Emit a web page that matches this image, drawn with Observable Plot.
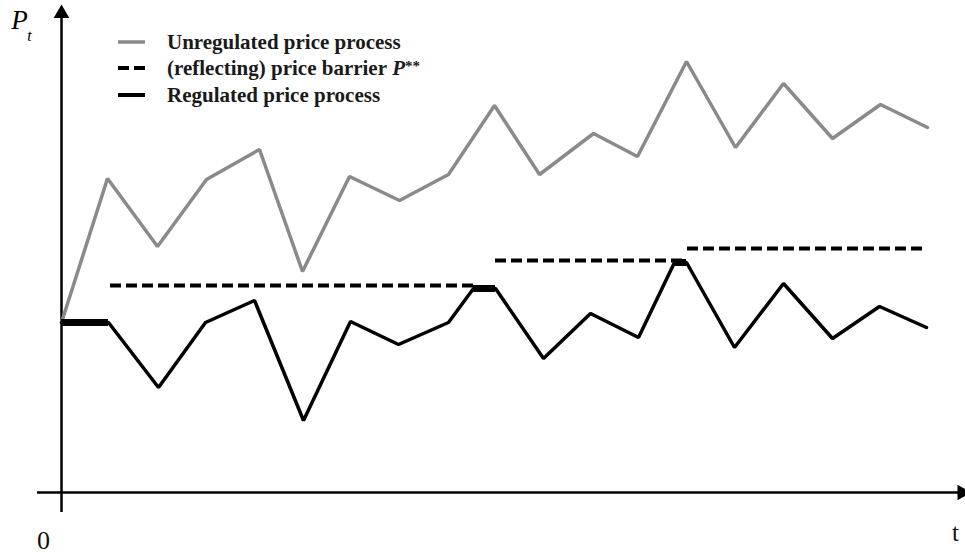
<!DOCTYPE html>
<html>
<head>
<meta charset="utf-8">
<script src="https://cdn.jsdelivr.net/npm/d3@7"></script>
<script src="https://cdn.jsdelivr.net/npm/@observablehq/plot@0.6"></script>
<style>
  html, body { margin: 0; padding: 0; background: #fff; }
  #wrap { position: relative; width: 965px; height: 555px; overflow: hidden; }
  #legend { position: absolute; left: 0; top: 0; font-family: "Liberation Serif", serif; font-weight: bold; font-size: 21px; color: #1a1a1a; }
  .row { position: absolute; left: 118px; height: 26px; display: flex; align-items: center; white-space: nowrap; }
  .row svg { margin-right: 22px; }
</style>
</head>
<body>
<div id="wrap">
  <div id="chart"></div>
  <div id="legend">
    <div class="row" style="top:29px"><svg width="27" height="6"><line x1="0" x2="27" y1="3" y2="3" stroke="#8a8a8a" stroke-width="3.5"/></svg>Unregulated price process</div>
    <div class="row" style="top:55px"><svg width="27" height="6"><line x1="0" x2="27" y1="3" y2="3" stroke="#000" stroke-width="4" stroke-dasharray="11,5"/></svg>(reflecting) price barrier&nbsp;<i>P</i><sup style="font-size:15px;position:relative;top:-2px">**</sup></div>
    <div class="row" style="top:82px"><svg width="27" height="6"><line x1="0" x2="27" y1="3" y2="3" stroke="#000" stroke-width="4"/></svg>Regulated price process</div>
  </div>
</div>
<script>
// Unregulated price process
const tUnreg = [0, 46, 96, 145, 198, 241, 288, 338, 387, 433, 478, 532, 576, 625, 674, 722, 771, 819, 866];
const pUnreg = [170, 314, 246, 313, 343, 221, 316, 292, 318, 387, 318, 359, 336, 431, 345, 409, 354, 388, 365];

// Regulated price process
const tReg = [0, 47, 97, 144, 193, 242, 289, 337, 387, 412, 434, 482, 529, 577, 613, 625, 673, 722, 771, 818, 865];
const pReg = [170, 170, 105, 170, 192, 72, 171, 148, 170, 204, 204, 134, 179, 155, 230, 230, 145, 209, 154, 186, 165];

// Periods where the regulated price sits on the barrier
const holdStart = [0, 412, 613];
const holdEnd = [47, 434, 625];
const holdLevel = [170, 204, 230];

// (reflecting) price barrier P**
const barStart = [49, 434, 626];
const barEnd = [412, 626, 861];
const barLevel = [207, 232, 244];

const unreg = tUnreg.map((t, i) => ({t, p: pUnreg[i]}));
const reg = tReg.map((t, i) => ({t, p: pReg[i]}));
const holds = holdStart.map((s, i) => ({s, e: holdEnd[i], p: holdLevel[i]}));
const bars = barStart.map((s, i) => ({s, e: barEnd[i], p: barLevel[i]}));

const serif = "Liberation Serif";

const chart = Plot.plot({
  width: 965,
  height: 555,
  marginLeft: 61,
  marginRight: 4,
  marginTop: 10,
  marginBottom: 63,
  x: {domain: [0, 900], axis: null},
  y: {domain: [0, 482], axis: null},
  style: {background: "transparent"},
  marks: [
    // axes
    Plot.ruleX([0], {x: d => d, y1: -20, y2: 474, stroke: "#000", strokeWidth: 2.5}),
    Plot.ruleY([0], {y: d => d, x1: -24, x2: 897, stroke: "#000", strokeWidth: 2.5}),
    Plot.dot([0], {x: 0, y: 479, symbol: "triangle", r: 5.8, fill: "#000", stroke: "none"}),
    Plot.dot([0], {x: 900.5, y: 0, symbol: "triangle", r: 5.8, rotate: 90, fill: "#000", stroke: "none"}),
    // axis labels
    Plot.text(["0"], {x: 0, y: 0, text: d => d, dx: -18, dy: 48, fontFamily: serif, fontSize: 26, fill: "#111"}),
    Plot.text(["t"], {x: 900, y: 0, text: d => d, dx: -6, dy: 40, fontFamily: serif, fontSize: 25, fill: "#111"}),
    Plot.text(["P"], {x: 0, y: 482, text: d => d, dx: -42, dy: 10, fontFamily: serif, fontStyle: "italic", fontSize: 27, fill: "#000"}),
    Plot.text(["t"], {x: 0, y: 482, text: d => d, dx: -32, dy: 25, fontFamily: serif, fontStyle: "italic", fontSize: 16, fill: "#000"}),
    // series
    Plot.line(unreg, {x: "t", y: "p", stroke: "#8a8a8a", strokeWidth: 3.5, strokeLinejoin: "miter"}),
    Plot.ruleY(bars, {x1: "s", x2: "e", y: "p", stroke: "#000", strokeWidth: 4, strokeDasharray: "11,5"}),
    Plot.line(reg, {x: "t", y: "p", stroke: "#000", strokeWidth: 3.5, strokeLinejoin: "miter"}),
    Plot.ruleY(holds, {x1: "s", x2: "e", y: "p", stroke: "#000", strokeWidth: 7})
  ]
});
document.getElementById("chart").appendChild(chart);
</script>
</body>
</html>
